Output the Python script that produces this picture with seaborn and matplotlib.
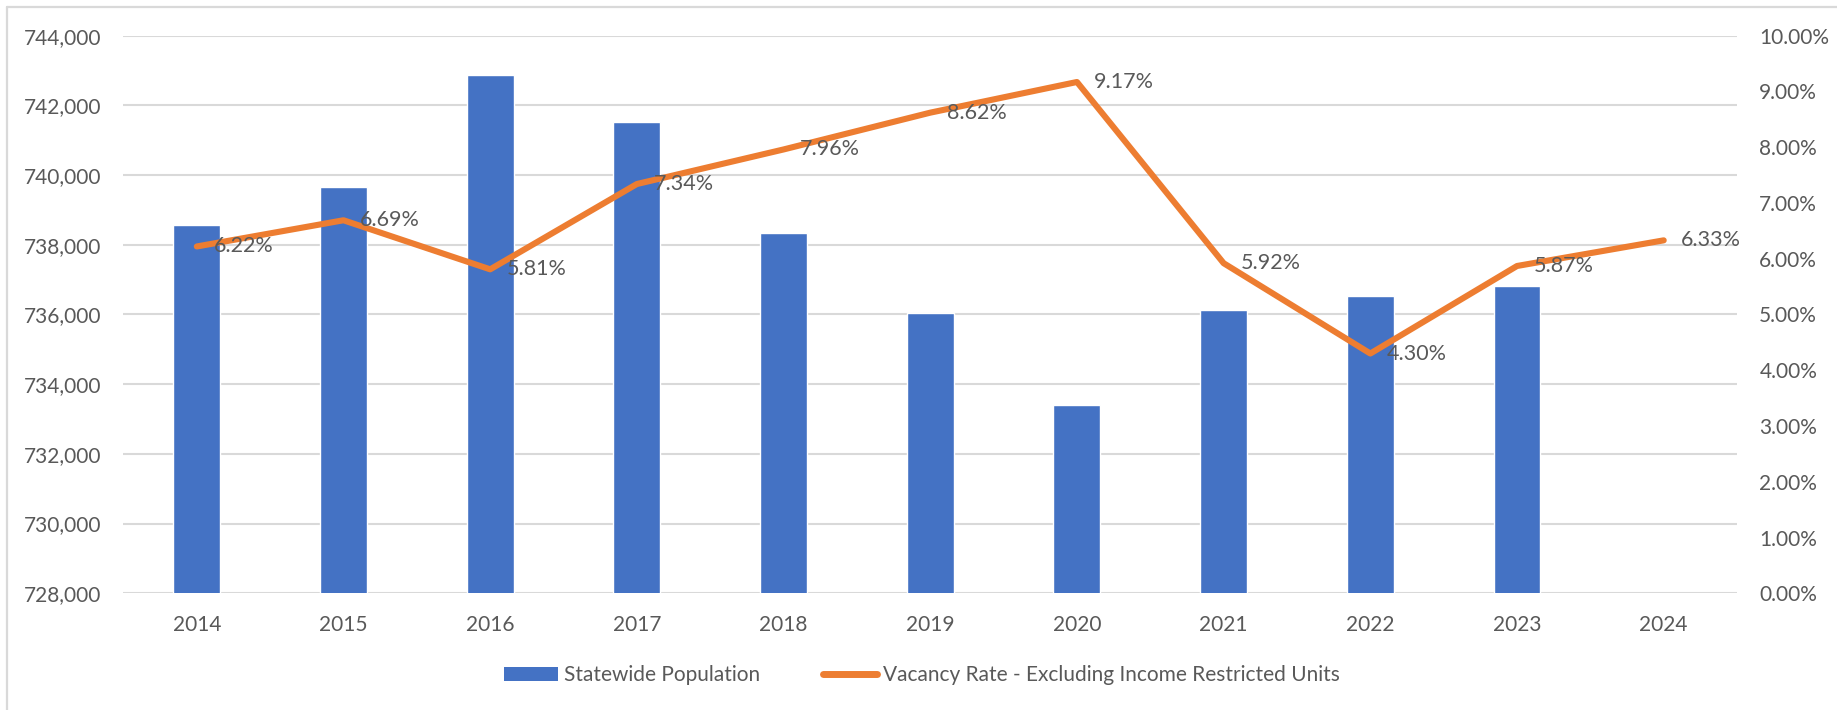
import matplotlib
matplotlib.use('Agg')
import matplotlib.pyplot as plt
from matplotlib.lines import Line2D
from matplotlib.patches import Patch
from matplotlib.ticker import FuncFormatter, MultipleLocator
import seaborn as sns
import pandas as pd
import numpy as np

years = ['2014', '2015', '2016', '2017', '2018', '2019', '2020', '2021', '2022', '2023', '2024']
population = [738570, 739650, 742870, 741520, 738330, 736040, 733410, 736130, 736540, 736820, np.nan]
vacancy_rate = [6.22, 6.69, 5.81, 7.34, 7.96, 8.62, 9.17, 5.92, 4.30, 5.87, 6.33]

bar_color = '#4472C4'
line_color = '#ED7D31'
text_color = '#595959'
grid_color = '#D9D9D9'

sns.set_theme(style='white')
plt.rcParams['font.family'] = ['Lato', 'DejaVu Sans']
plt.rcParams['font.size'] = 15

df = pd.DataFrame({'year': years, 'population': population, 'rate': vacancy_rate})

fig = plt.figure(figsize=(18.37, 7.10), dpi=100)
ax = fig.add_axes([0.0672, 0.1644, 0.8784, 0.7853])

sns.barplot(data=df, x='year', y='population', order=years, color=bar_color,
            width=0.32, saturation=1, ax=ax)
ax.set_ylim(728000, 744000)
ax.yaxis.set_major_locator(MultipleLocator(2000))
ax.yaxis.set_major_formatter(FuncFormatter(lambda v, p: f'{v:,.0f}'))
ax.grid(axis='y', color=grid_color, linewidth=1.5)
ax.set_axisbelow(True)
ax.set_xlabel('')
ax.set_ylabel('')

ax2 = ax.twinx()
sns.pointplot(data=df, x='year', y='rate', order=years, color=line_color,
              markers='', linestyles='-', errorbar=None, ax=ax2)
for ln in ax2.lines:
    ln.set_linewidth(4.4)
    ln.set_solid_joinstyle('round')
    ln.set_solid_capstyle('round')
ax2.set_ylim(0, 10)
ax2.yaxis.set_major_locator(MultipleLocator(1))
ax2.yaxis.set_major_formatter(FuncFormatter(lambda v, p: f'{v:.2f}%'))
ax2.set_ylabel('')
ax2.grid(False)

for i, r in enumerate(vacancy_rate):
    ax2.annotate(f'{r:.2f}%', (i, r), xytext=(12, 0), textcoords='offset points',
                 ha='left', va='center', color=text_color, fontsize=15.5)

for a in (ax, ax2):
    for s in a.spines.values():
        s.set_visible(False)
    a.tick_params(length=0, colors=text_color, labelsize=15)
ax.tick_params(axis='y', pad=16)
ax2.tick_params(axis='y', pad=16)
ax.tick_params(axis='x', pad=16)
ax.set_xlim(-0.5, len(years) - 0.5)

handles = [Patch(facecolor=bar_color, edgecolor='none'),
           Line2D([], [], color=line_color, linewidth=5, solid_capstyle='round')]
labels = ['Statewide Population', 'Vacancy Rate - Excluding Income Restricted Units']
fig.legend(handles, labels, loc='center', bbox_to_anchor=(0.502, 0.049), ncol=2,
           frameon=False, fontsize=15, labelcolor=text_color, handlelength=2.6,
           handleheight=0.7, handletextpad=0.3, columnspacing=3.0)

# chart frame (only top and left edges visible)
fig.add_artist(Line2D([0.0036, 0.0036], [0, 0.9906], transform=fig.transFigure,
                      color=grid_color, linewidth=1.6))
fig.add_artist(Line2D([0.0036, 1], [0.9906, 0.9906], transform=fig.transFigure,
                      color=grid_color, linewidth=1.6))

fig.savefig('out.png', dpi=100)
